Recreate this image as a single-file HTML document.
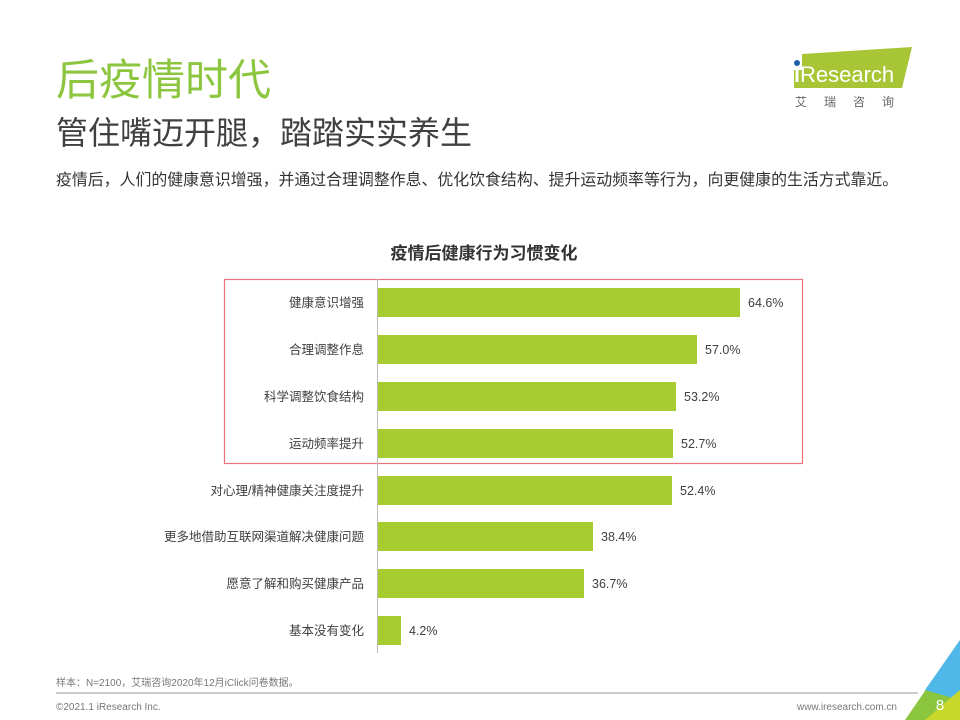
<!DOCTYPE html>
<html><head><meta charset="utf-8"><style>
body{margin:0;width:960px;height:720px;overflow:hidden;background:#fff;font-family:"Liberation Sans","Noto Sans CJK SC",sans-serif;position:relative}
.a{position:absolute;white-space:nowrap}
</style></head><body>
<div class="a" style="left:56px;top:55px;font-size:43px;color:#8cc63f;line-height:52px">后疫情时代</div>
<div class="a" style="left:56px;top:114px;font-size:32px;color:#404040;line-height:38px">管住嘴迈开腿，踏踏实实养生</div>
<div class="a" style="left:56px;top:170px;font-size:15.9px;color:#333;line-height:22px">疫情后，人们的健康意识增强，并通过合理调整作息、优化饮食结构、提升运动频率等行为，向更健康的生活方式靠近。</div>
<svg class="a" style="left:0;top:0" width="960" height="720">
<polygon points="802,54 912,47 902,88 794,88 794,70 802,70" fill="#a8c536"/>
<circle cx="797" cy="63" r="3" fill="#1f5fa8"/>
<rect x="795.5" y="67" width="3" height="15" fill="#fff"/>
<text x="800" y="82" font-size="22" fill="#fff" font-family="Liberation Sans">Research</text>
<text x="795" y="106" font-size="12" fill="#666" font-family="Noto Sans CJK SC" letter-spacing="17">艾瑞咨询</text>
<text x="484" y="259" font-size="17" font-weight="bold" fill="#333" text-anchor="middle" font-family="Noto Sans CJK SC">疫情后健康行为习惯变化</text>
<rect x="224.5" y="279.5" width="578" height="184" fill="none" stroke="#e8737a" stroke-width="1.2"/>
<line x1="377.5" y1="279" x2="377.5" y2="653" stroke="#bbb"/>
<g fill="#a6cc2f">
<rect x="378" y="288" width="362" height="29"/>
<rect x="378" y="335" width="319" height="29"/>
<rect x="378" y="382" width="298" height="29"/>
<rect x="378" y="429" width="295" height="29"/>
<rect x="378" y="476" width="294" height="29"/>
<rect x="378" y="522" width="215" height="29"/>
<rect x="378" y="569" width="206" height="29"/>
<rect x="378" y="616" width="23" height="29"/>
</g>
<g font-size="12.5" fill="#404040" font-family="Liberation Sans,Noto Sans CJK SC">
<g text-anchor="end">
<text x="364" y="307">健康意识增强</text>
<text x="364" y="354">合理调整作息</text>
<text x="364" y="401">科学调整饮食结构</text>
<text x="364" y="448">运动频率提升</text>
<text x="364" y="495">对心理/精神健康关注度提升</text>
<text x="364" y="541">更多地借助互联网渠道解决健康问题</text>
<text x="364" y="588">愿意了解和购买健康产品</text>
<text x="364" y="635">基本没有变化</text>
</g>
<text x="748" y="307">64.6%</text>
<text x="705" y="354">57.0%</text>
<text x="684" y="401">53.2%</text>
<text x="681" y="448">52.7%</text>
<text x="680" y="495">52.4%</text>
<text x="601" y="541">38.4%</text>
<text x="592" y="588">36.7%</text>
<text x="409" y="635">4.2%</text>
</g>
<text x="56" y="686" font-size="10" fill="#777" font-family="Liberation Sans,Noto Sans CJK SC">样本：N=2100，艾瑞咨询2020年12月iClick问卷数据。</text>
<line x1="56" y1="693" x2="918" y2="693" stroke="#999"/>
<text x="56" y="710" font-size="10" fill="#777">©2021.1 iResearch Inc.</text>
<text x="897" y="710" font-size="10" fill="#777" text-anchor="end">www.iresearch.com.cn</text>
<polygon points="960,640 960,720 905,720" fill="#8cc63f"/>
<polygon points="960,640 925,690 960,700" fill="#4fb8e8"/>
<polygon points="960,690 960,720 925,720" fill="#c8d82a"/>
<text x="940" y="710" font-size="15" fill="#fff" text-anchor="middle">8</text>
</svg>
</body></html>
